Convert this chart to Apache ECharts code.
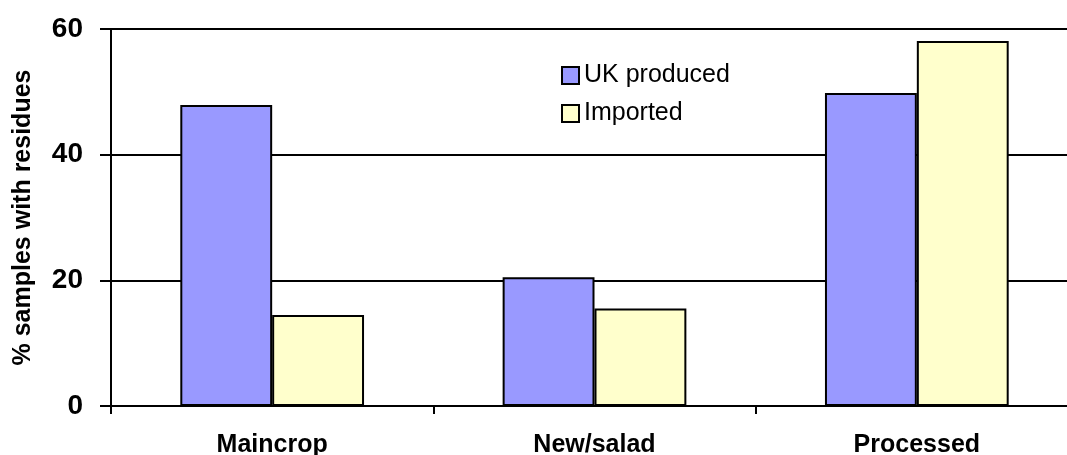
<!DOCTYPE html>
<html>
<head>
<meta charset="utf-8">
<script src="https://cdn.jsdelivr.net/npm/echarts@6/dist/echarts.min.js"></script>
<style>
  html, body { margin: 0; padding: 0; background: #fff; overflow: hidden; }
  #chart { width: 1067px; height: 455px; }
</style>
</head>
<body>
<div id="chart"></div>
<script>
// Potato samples with pesticide residues, by crop type and origin
const categories = ['Maincrop', 'New/salad', 'Processed'];
const ukProduced = [47.9, 20.5, 49.8];
const imported = [14.5, 15.5, 58.1];
const seriesNames = ['UK produced', 'Imported'];
const yTicks = { min: 0, max: 60, interval: 20 };

const FONT = '"Liberation Sans", Arial, sans-serif';

const chart = echarts.init(document.getElementById('chart'), null, { renderer: 'canvas' });

chart.setOption({
  animation: false,
  backgroundColor: '#ffffff',
  // the plot runs a little past the right edge of the canvas
  grid: { left: 111, right: -11, top: 29, bottom: 49, containLabel: false, outerBoundsMode: 'none' },
  legend: {
    orient: 'vertical',
    left: 561,
    top: 63,
    padding: 0,
    itemWidth: 17,
    itemHeight: 17,
    itemGap: 13,
    icon: 'rect',
    data: seriesNames,
    itemStyle: { borderColor: '#000', borderWidth: 2 },
    textStyle: { fontFamily: FONT, fontSize: 25, lineHeight: 20, color: '#000' }
  },
  xAxis: {
    type: 'category',
    data: categories,
    axisLine: { lineStyle: { color: '#000', width: 2 } },
    axisTick: { show: true, length: 8, lineStyle: { color: '#000', width: 2 } },
    axisLabel: { fontFamily: FONT, fontSize: 25, fontWeight: 'bold', color: '#000', margin: 27 }
  },
  yAxis: {
    type: 'value',
    min: yTicks.min,
    max: yTicks.max,
    interval: yTicks.interval,
    name: '% samples with residues',
    nameLocation: 'middle',
    nameGap: 75,
    nameTextStyle: { fontFamily: FONT, fontSize: 25, fontWeight: 'bold', color: '#000' },
    axisLine: { show: true, lineStyle: { color: '#000', width: 2 } },
    axisTick: { show: true, length: 11, lineStyle: { color: '#000', width: 2 } },
    axisLabel: { fontFamily: FONT, fontSize: 28, fontWeight: 'bold', color: '#000', margin: 28 },
    splitLine: { show: true, lineStyle: { color: '#000', width: 2 } }
  },
  series: [
    {
      name: seriesNames[0],
      type: 'bar',
      data: ukProduced,
      barGap: '0%',
      barCategoryGap: '43%',
      itemStyle: { color: '#9999FF', borderColor: '#000', borderWidth: 2 }
    },
    {
      name: seriesNames[1],
      type: 'bar',
      data: imported,
      barGap: '0%',
      barCategoryGap: '43%',
      itemStyle: { color: '#FFFFCC', borderColor: '#000', borderWidth: 2 }
    }
  ]
});
</script>
</body>
</html>
